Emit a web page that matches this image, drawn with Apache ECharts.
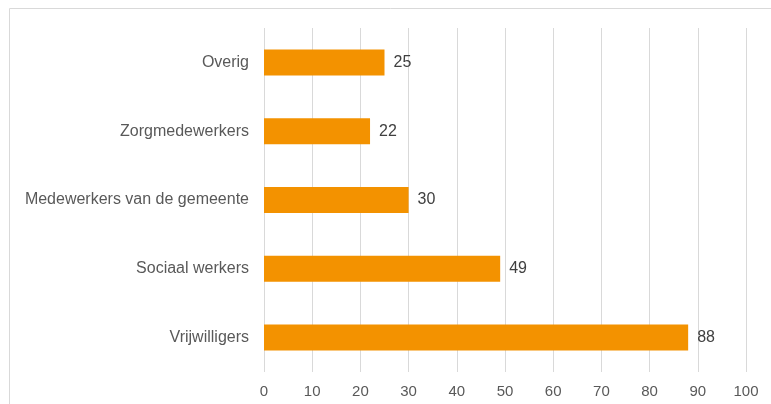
<!DOCTYPE html>
<html><head><meta charset="utf-8">
<script src="https://cdn.jsdelivr.net/npm/echarts@6/dist/echarts.min.js"></script>
<style>html,body{margin:0;padding:0;background:#fff}#c{width:771px;height:404px}</style>
</head><body><div id="c"></div>
<script>
const categories = ['Vrijwilligers','Sociaal werkers','Medewerkers van de gemeente','Zorgmedewerkers','Overig'];
const values = [88, 49, 30, 22, 25];
const ticks = [0,10,20,30,40,50,60,70,80,90,100];

const chart = echarts.init(document.getElementById('c'), null, {renderer:'canvas'});
chart.setOption({
  animation:false,
  graphic:[{type:'rect',shape:{x:9.5,y:8.5,width:800,height:420},style:{fill:'none',stroke:'#d9d9d9',lineWidth:1},silent:true}],
  grid:{left:264,right:25,top:28,bottom:32,containLabel:false},
  xAxis:{type:'value',min:0,max:100,interval:10,
    axisLine:{show:false},axisTick:{show:false},
    axisLabel:{color:'#595959',fontFamily:'Liberation Sans, Arial, sans-serif',fontSize:15,margin:12,
      formatter:v=>ticks.includes(v)?String(v):''},
    splitLine:{lineStyle:{color:'#d9d9d9',width:1}}},
  yAxis:{type:'category',data:categories,
    axisLine:{show:false},axisTick:{show:false},
    axisLabel:{color:'#595959',fontFamily:'Liberation Sans, Arial, sans-serif',fontSize:16,margin:15}},
  series:[{type:'bar',data:values,barWidth:26,itemStyle:{color:'#F39200'},
    label:{show:true,position:'right',distance:9,color:'#404040',fontFamily:'Liberation Sans, Arial, sans-serif',fontSize:16}}]
});
</script></body></html>
